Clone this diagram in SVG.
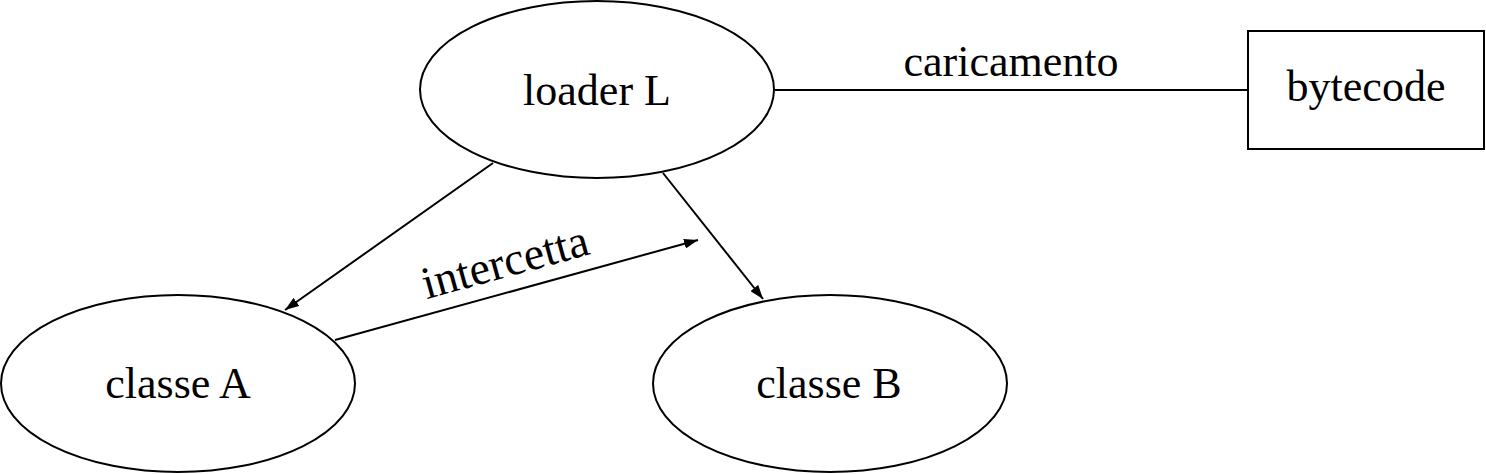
<svg xmlns="http://www.w3.org/2000/svg" width="1486" height="474" viewBox="0 0 1486 474">
<style>
.n{fill:#fff;stroke:#000;stroke-width:2}
.t{font-family:"Liberation Serif","DejaVu Serif",serif;font-size:44px;fill:#000;text-anchor:middle}
.e{stroke:#000;stroke-width:2;fill:none}
</style>
<defs>
<marker id="ah" viewBox="0 0 14 10" refX="14" refY="5" markerWidth="14" markerHeight="10" markerUnits="userSpaceOnUse" orient="auto">
<path d="M0,0 L14,5 L0,10 z" fill="#000"/>
</marker>
</defs>
<rect width="1486" height="474" fill="#fff"/>
<g id="connectors">
<line class="e" x1="775" y1="90" x2="1248" y2="90"/>
<text class="t" x="1011" y="76">caricamento</text>
<line class="e" x1="493" y1="163" x2="285" y2="310" marker-end="url(#ah)"/>
<line class="e" x1="663" y1="173" x2="763" y2="299" marker-end="url(#ah)"/>
<line class="e" x1="335" y1="340" x2="698" y2="240" marker-end="url(#ah)"/>
<text class="t" transform="translate(513,291) rotate(-15.4)" x="0" y="-15" style="font-size:46px">intercetta</text>
</g>
<g id="loader">
<ellipse class="n" cx="597" cy="89.5" rx="177" ry="88.5"/>
<text class="t" x="597" y="105">loader L</text>
</g>
<g id="classeA">
<ellipse class="n" cx="178" cy="383.5" rx="177" ry="88.5"/>
<text class="t" x="178" y="398">classe A</text>
</g>
<g id="classeB">
<ellipse class="n" cx="830" cy="383.5" rx="177" ry="88.5"/>
<text class="t" x="829" y="398">classe B</text>
</g>
<g id="bytecode">
<rect class="n" x="1248" y="31" width="236" height="118"/>
<text class="t" x="1366" y="101">bytecode</text>
</g>
</svg>
